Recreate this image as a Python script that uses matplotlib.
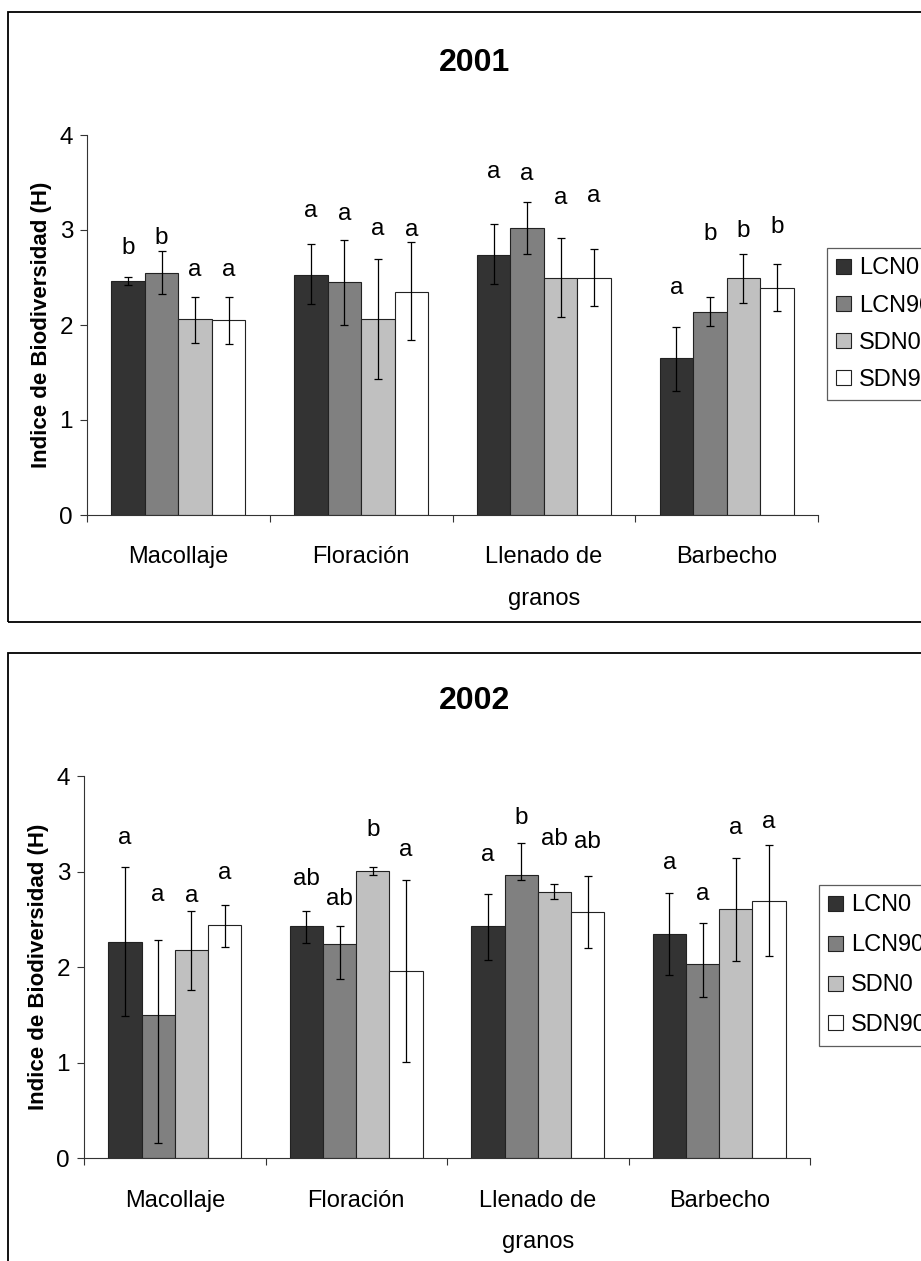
import matplotlib
matplotlib.use("Agg")
import matplotlib.pyplot as plt
import numpy as np
from matplotlib.patches import Rectangle

plt.rcParams['font.family'] = ['Liberation Sans', 'DejaVu Sans']

etapas = ["Macollaje", "Floración", "Llenado de\ngranos", "Barbecho"]
tratamientos = ["LCN0", "LCN90", "SDN0", "SDN90"]
colores = ["#333333", "#808080", "#c0c0c0", "#ffffff"]

# 2001: medias por tratamiento (filas) y etapa (columnas)
media_2001 = [[2.46, 2.53, 2.74, 1.65],
              [2.55, 2.45, 3.02, 2.14],
              [2.06, 2.06, 2.50, 2.49],
              [2.05, 2.35, 2.50, 2.39]]
inf_2001 = [[2.42, 2.22, 2.43, 1.31],
            [2.33, 2.00, 2.75, 1.99],
            [1.81, 1.43, 2.08, 2.23],
            [1.80, 1.84, 2.20, 2.15]]
sup_2001 = [[2.51, 2.85, 3.06, 1.98],
            [2.78, 2.90, 3.29, 2.30],
            [2.30, 2.69, 2.92, 2.75],
            [2.30, 2.87, 2.80, 2.64]]
letras_2001 = [["b", "a", "a", "a"],
               ["b", "a", "a", "b"],
               ["a", "a", "a", "b"],
               ["a", "a", "a", "b"]]
alto_letras_2001 = [[2.75, 3.14, 3.55, 2.33],
                    [2.85, 3.10, 3.53, 2.90],
                    [2.52, 2.95, 3.27, 2.93],
                    [2.52, 2.94, 3.29, 2.97]]

# 2002
media_2002 = [[2.26, 2.43, 2.43, 2.35],
              [1.50, 2.24, 2.97, 2.03],
              [2.18, 3.01, 2.79, 2.61],
              [2.44, 1.96, 2.58, 2.69]]
inf_2002 = [[1.49, 2.25, 2.08, 1.92],
            [0.16, 1.88, 2.91, 1.69],
            [1.76, 2.97, 2.71, 2.07],
            [2.21, 1.01, 2.20, 2.12]]
sup_2002 = [[3.05, 2.59, 2.77, 2.78],
            [2.29, 2.43, 3.30, 2.46],
            [2.59, 3.05, 2.87, 3.14],
            [2.65, 2.91, 2.96, 3.28]]
letras_2002 = [["a", "ab", "a", "a"],
               ["a", "ab", "b", "a"],
               ["a", "b", "ab", "a"],
               ["a", "a", "ab", "a"]]
alto_letras_2002 = [[3.29, 2.86, 3.11, 3.03],
                    [2.69, 2.65, 3.50, 2.70],
                    [2.68, 3.37, 3.28, 3.40],
                    [2.92, 3.17, 3.25, 3.46]]

FS = 17
W = 921
H = 1261

fig = plt.figure(figsize=(W / 100, H / 100), dpi=100)

# marcos de cada gráfico
fig.patches.append(Rectangle((8 / W, 1 - 622 / H), 1.0, (622 - 12) / H,
                             transform=fig.transFigure, fill=False,
                             edgecolor="black", linewidth=1.3))
fig.patches.append(Rectangle((8 / W, -0.05), 1.0, 0.05 + 1 - 653 / H,
                             transform=fig.transFigure, fill=False,
                             edgecolor="black", linewidth=1.3))


def panel(rect, anio, media, inf, sup, letras, alto, title_y, leg_anchor, leg_space):
    ax = fig.add_axes(rect)
    x = np.arange(len(etapas))
    ancho = 0.183
    for i, trat in enumerate(tratamientos):
        pos = x + (i - 1.5) * ancho
        m = np.array(media[i])
        err = [m - np.array(inf[i]), np.array(sup[i]) - m]
        ax.bar(pos, m, ancho, color=colores[i], edgecolor="#222222",
               linewidth=0.8, label=trat, zorder=2)
        ax.errorbar(pos, m, yerr=err, fmt="none", ecolor="black",
                    elinewidth=0.9, capsize=2.6, capthick=0.9, zorder=3)
        for j in range(len(etapas)):
            ax.text(pos[j], alto[i][j], letras[i][j], ha="center",
                    va="baseline", fontsize=FS + 0.5)

    ax.set_xlim(-0.5, len(etapas) - 0.5)
    ax.set_ylim(0, 4)
    ax.set_yticks([0, 1, 2, 3, 4])
    ax.set_xticks(np.arange(len(etapas) + 1) - 0.5)
    ax.set_xticklabels([])
    ax.set_xticks(x, minor=True)
    ax.set_xticklabels(etapas, minor=True, fontsize=FS, linespacing=2.15)
    ax.tick_params(axis="x", which="major", direction="out", length=5,
                   width=0.8, color="#333333")
    ax.tick_params(axis="x", which="minor", length=0, pad=22.5)
    ax.tick_params(axis="y", direction="out", length=5, width=0.8,
                   color="#333333", labelsize=FS + 0.5, pad=5)
    for s in ["top", "right"]:
        ax.spines[s].set_visible(False)
    for s in ["left", "bottom"]:
        ax.spines[s].set_color("#333333")
        ax.spines[s].set_linewidth(0.8)
    ax.set_ylabel("Indice de Biodiversidad (H)", fontsize=16, fontweight="bold")
    ax.yaxis.set_label_coords(-0.048, 0.5)

    fig.text(474 / W, title_y, anio, ha="center", va="baseline",
             fontsize=23, fontweight="bold")

    leg = ax.legend(loc="upper left", bbox_to_anchor=leg_anchor,
                    bbox_transform=fig.transFigure, fontsize=FS,
                    frameon=True, fancybox=False, borderaxespad=0,
                    handlelength=0.6, handleheight=0.6, handletextpad=0.35,
                    labelspacing=leg_space, borderpad=0.4)
    leg.get_frame().set_edgecolor("#333333")
    leg.get_frame().set_linewidth(0.9)
    return ax


panel([87 / W, 1 - 515 / H, 731 / W, 380 / H], "2001", media_2001, inf_2001,
      sup_2001, letras_2001, alto_letras_2001, 1 - 71 / H,
      (827 / W, 1 - 248 / H), 0.64)
panel([84 / W, 1 - 1158.3 / H, 726 / W, 382 / H], "2002", media_2002, inf_2002,
      sup_2002, letras_2002, alto_letras_2002, 1 - 709 / H,
      (819 / W, 1 - 885 / H), 0.76)

fig.savefig("out.png", dpi=100)
